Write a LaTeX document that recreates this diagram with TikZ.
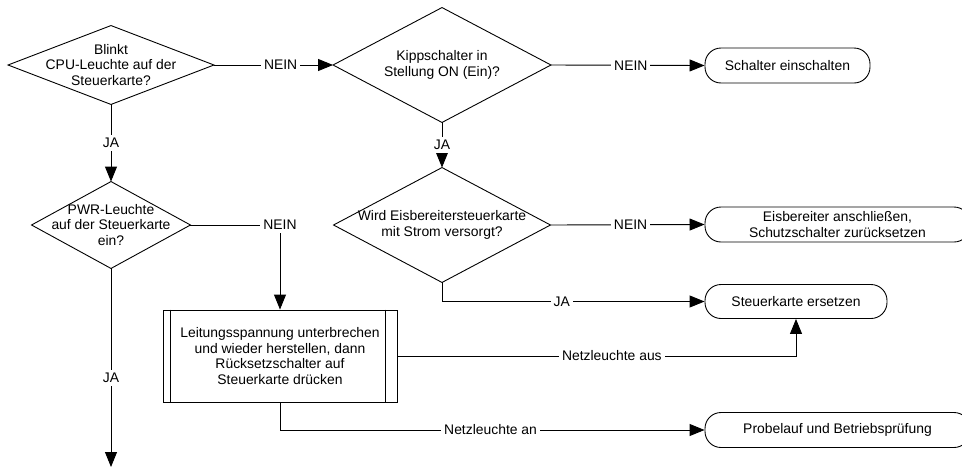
\documentclass[tikz,border=0pt]{standalone}
\usepackage{fontspec}
\setmainfont{Liberation Sans}
\usetikzlibrary{arrows.meta}
\begin{document}
\begin{tikzpicture}[x=1pt,y=-1pt,
  font=\fontsize{13.9pt}{15.5pt}\selectfont,
  line width=0.9pt,
  flow/.style={draw, -{Triangle[length=15pt,width=12pt]}},
  decision/.style={rectangle, inner sep=0pt, align=center},
  terminal/.style={draw, rectangle, rounded corners=16pt, minimum height=35pt,
                   inner sep=0pt, align=center},
  process/.style={draw, rectangle, inner sep=0pt, minimum width=234pt,
                  minimum height=92pt, align=center},
  lbl/.style={fill=white, inner sep=3pt},
]
\useasboundingbox (0,0) rectangle (962,469);
\clip (0,0) rectangle (962,469);

% decisions (text box; the diamond outline is drawn from its anchors)
\node[decision, minimum width=205pt, minimum height=78pt] (d1) at (111,65)
  {Blinkt\\CPU-Leuchte auf der\\Steuerkarte?};
\node[decision, minimum width=217pt, minimum height=114pt] (d2) at (442,65)
  {Kippschalter in\\Stellung ON (Ein)?};
\node[decision, minimum width=216pt, minimum height=114pt] (d3) at (442,225)
  {Wird Eisbereitersteuerkarte\\mit Strom versorgt?};
\node[decision, minimum width=158pt, minimum height=86pt] (d4) at (111,225)
  {PWR-Leuchte\\auf der Steuerkarte\\ein?};
\foreach \d in {d1,d2,d3,d4}
  \draw (\d.west) -- (\d.north) -- (\d.east) -- (\d.south) -- cycle;

% actions
\node[terminal, minimum width=165pt] (s1) at (787.5,65.5) {Schalter einschalten};
\node[terminal, minimum width=265pt] (s2) at (837.5,224.5)
  {Eisbereiter anschließen,\\Schutzschalter zurücksetzen};
\node[terminal, minimum width=182pt, minimum height=34pt] (s3) at (796,301.5)
  {Steuerkarte ersetzen};
\node[terminal, minimum width=265pt] (s4) at (837.5,430)
  {Probelauf und Betriebsprüfung};

% reset procedure (predefined process box)
\node[process] (p) at (280,356)
  {Leitungsspannung unterbrechen\\und wieder herstellen, dann\hspace*{26pt}\\Rücksetzschalter auf\\Steuerkarte drücken};
\draw ([xshift=8pt]p.north west) -- ([xshift=8pt]p.south west);
\draw ([xshift=-12pt]p.north east) -- ([xshift=-12pt]p.south east);

\coordinate (out) at (111,467);

% connectors
\draw[flow] (d1.east) -- node[lbl, pos=0.56] {NEIN} (d2.west);
\draw[flow] (d2.east) -- node[lbl, pos=0.52] {NEIN} (s1.west);
\draw[flow] (d3.east) -- node[lbl, pos=0.52] {NEIN} (s2.west);
\draw[flow] (d1.south) -- node[lbl, pos=0.5] {JA} (d4.north);
\draw[flow] (d2.south) -- node[lbl, pos=0.5] {JA} (d3.north);
\draw[flow] (d3.south) |- node[lbl, pos=0.728] {JA} (s3.west);
\draw[flow] (d4.east) -| node[lbl, pos=0.5] {NEIN} (p.north);
\draw[flow] (p.east) -| node[lbl, pos=0.269] {Netzleuchte aus} (s3.south);
\draw[flow] (p.south) |- node[lbl, pos=0.748] {Netzleuchte an} (s4.west);
\draw[flow] (d4.south) -- node[lbl, pos=0.55] {JA} (out);
\end{tikzpicture}
\end{document}
